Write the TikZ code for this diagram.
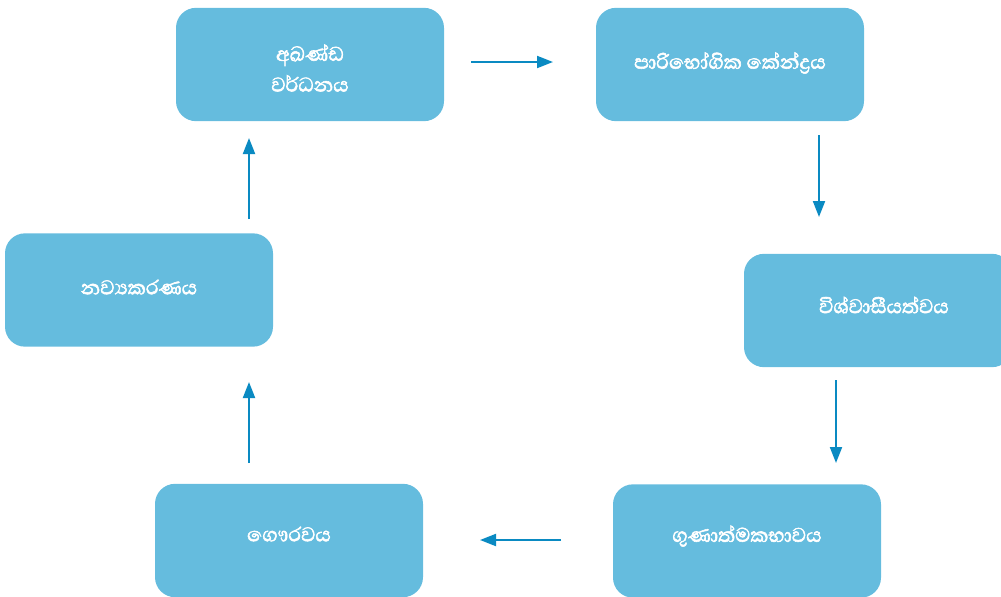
\documentclass[tikz,border=0pt]{standalone}
\usepackage{fontspec}
\newfontfamily\sinhalafont[Script=Sinhala, FakeBold=2.2]{Abhaya Libre}
\usetikzlibrary{arrows.meta}
\definecolor{boxfill}{HTML}{65BCDE}
\definecolor{arr}{HTML}{0A8AC2}
\tikzset{
  card/.style={fill=boxfill, draw=none, rounded corners=15pt, minimum width=201pt, minimum height=85pt, inner sep=0pt},
  lbl/.style={text=white, font=\sinhalafont\fontsize{19pt}{23pt}\selectfont, align=center},
  flow/.style={draw=arr, line width=1.5pt, -{Triangle[length=12pt,width=9pt]}}
}
\begin{document}
\begin{tikzpicture}[x=0.75pt,y=-0.75pt]
\useasboundingbox (0,0) rectangle (1001,597);
\node[card] (b1) at (310,64.5) {};
\node[card] (b2) at (730,64.5) {};
\node[card] (b3) at (878,310.5) {};
\node[card] (b4) at (747,541) {};
\node[card] (b5) at (289,540.5) {};
\node[card] (b6) at (139,290) {};
\node[lbl] (t1) at (310,68) {අඛණ්ඩ\\වර්ධනය};
\node[lbl] (t2) at (730,63) {පාරිභෝගික කේන්ද්^^^^200dරය};
\node[lbl] (t3) at (884,305) {විශ්වාසීයත්වය};
\node[lbl] (t4) at (747,536) {ගුණාත්මකභාවය};
\node[lbl] (t5) at (289,534) {ගෞරවය};
\node[lbl] (t6) at (139,287) {නව්^^^^200dයකරණය};
\coordinate (a1s) at (471,62); \coordinate (a1e) at (553,62);
\coordinate (a2s) at (819,135); \coordinate (a2e) at (819,217);
\coordinate (a3s) at (836,380); \coordinate (a3e) at (836,463);
\coordinate (a4s) at (561,540); \coordinate (a4e) at (480,540);
\coordinate (a5s) at (249,463); \coordinate (a5e) at (249,382);
\coordinate (a6s) at (249,219); \coordinate (a6e) at (249,138);
\draw[flow] (a1s) -- (a1e);
\draw[flow] (a2s) -- (a2e);
\draw[flow] (a3s) -- (a3e);
\draw[flow] (a4s) -- (a4e);
\draw[flow] (a5s) -- (a5e);
\draw[flow] (a6s) -- (a6e);
\end{tikzpicture}
\end{document}
